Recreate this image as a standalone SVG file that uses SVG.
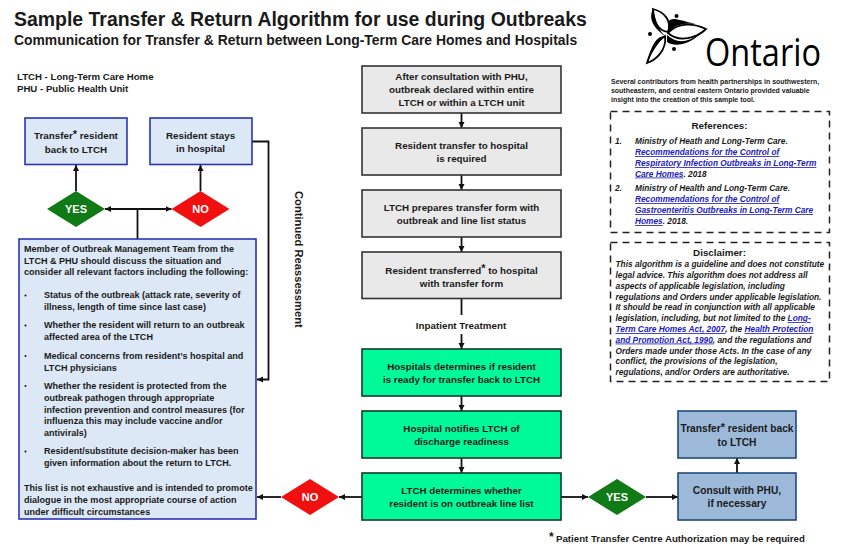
<svg xmlns="http://www.w3.org/2000/svg" width="850" height="550" viewBox="0 0 850 550">
<style>
text{font-family:"Liberation Sans",Arial,sans-serif;font-weight:700;fill:#1a1a1a}
.c{text-anchor:middle;font-size:9.8px}
.cr{text-anchor:middle;font-size:10.2px}
.b{font-size:9.05px}
.s{font-size:6.95px}
.r{font-size:8.3px;font-style:italic}
.d{font-size:8.34px;font-style:italic}
.l{fill:#2222bb;text-decoration:underline}
.h{font-size:9.8px;text-anchor:middle}
.w{fill:#fff;font-size:11px;text-anchor:middle}
.gr{fill:#e9e9e9;stroke:#333;stroke-width:1.6}
.gn{fill:#00fa9a;stroke:#0d3b2a;stroke-width:1.6}
.lb{fill:#dce8f6;stroke:#2a35b5;stroke-width:1.6}
.mb{fill:#9db9da;stroke:#1f4a78;stroke-width:1.6}
.y{fill:#0f7a16}
.n{fill:#f01010}
.dash{fill:#fff;stroke:#222;stroke-width:1.5;stroke-dasharray:7 5}
.e{fill:none;stroke:#111;stroke-width:1.8}
.p{fill:#fff;stroke:#000;stroke-width:1.8;stroke-linejoin:miter}
.sup{font-size:11px}
</style>
<defs>
<marker id="a" markerUnits="userSpaceOnUse" markerWidth="7" markerHeight="7" refX="6" refY="3" orient="auto-start-reverse"><path d="M0 0L6 3L0 6Z" fill="#111"/></marker>
</defs>
<g id="titles">
<text x="14" y="26" font-size="19.45">Sample Transfer &amp; Return Algorithm for use during Outbreaks</text>
<text x="14" y="45" font-size="13.9">Communication for Transfer &amp; Return between Long-Term Care Homes and Hospitals</text>
<text x="17" y="80" font-size="9.65">LTCH - Long-Term Care Home</text>
<text x="17" y="92" font-size="9.65">PHU - Public Health Unit</text>
</g>
<g id="logo">
<path class="p" d="M653 9C664 12 672 20 668 32C660 31 654 24 653 9Z"/>
<path class="p" d="M668 33C678 22 694 23 706 29C697 38 679 43 668 33Z"/>
<path class="p" d="M665 36C655 42 650 53 647 63C656 60 667 50 665 36Z"/>
<path d="M653 9C649 17 651 26 665 36C657 28 655 18 653 9ZM668 22C672 16 678 20 696 24C682 23 674 25 668 33ZM665 36C656 36 651 46 647 63C652 52 657 44 665 36ZM667 35C676 43 686 44 701 33C688 46 674 47 667 42Z" fill="#000"/>
<circle cx="676.500" cy="16" r="2"/><circle cx="650" cy="34" r="2"/><circle cx="674" cy="49" r="2"/>
<text x="705" y="66" font-size="39" textLength="116" lengthAdjust="spacingAndGlyphs" style="font-family:'Open Sans','Liberation Sans',sans-serif;font-weight:400;fill:#000">Ontario</text>
</g>
<g id="credits">
<text class="s" x="611" y="83.500">Several contributors from health partnerships in southwestern,</text>
<text class="s" x="611" y="93">southeastern, and central eastern Ontario provided valuable</text>
<text class="s" x="611" y="102">insight into the creation of this sample tool.</text>
</g>
<g id="references">
<rect class="dash" x="610.500" y="111.500" width="219" height="121"/>
<text class="h" x="719.500" y="129">References:</text>
<text class="r" x="615" y="144">1.</text>
<text class="r" x="635" y="144">Ministry of Heath and Long-Term Care.</text>
<text class="r l" x="635" y="155">Recommendations for the Control of</text>
<text class="r l" x="635" y="166">Respiratory Infection Outbreaks in Long-Term</text>
<text class="r" x="635" y="176.500"><tspan class="l">Care Homes</tspan>. 2018</text>
<text class="r" x="615" y="191">2.</text>
<text class="r" x="635" y="191">Ministry of Health and Long-Term Care.</text>
<text class="r l" x="635" y="202">Recommendations for the Control of</text>
<text class="r l" x="635" y="213">Gastroenteritis Outbreaks in Long-Term Care</text>
<text class="r" x="635" y="224"><tspan class="l">Homes</tspan>. 2018.</text>
</g>
<g id="disclaimer">
<rect class="dash" x="610.500" y="242.500" width="219" height="139"/>
<text class="h" x="719.500" y="256">Disclaimer:</text>
<text class="d" x="615.500" y="267">This algorithm is a guideline and does not constitute</text>
<text class="d" x="615.500" y="278">legal advice. This algorithm does not address all</text>
<text class="d" x="615.500" y="289">aspects of applicable legislation, including</text>
<text class="d" x="615.500" y="299.500">regulations and Orders under applicable legislation.</text>
<text class="d" x="615.500" y="310">It should be read in conjunction with all applicable</text>
<text class="d" x="615.500" y="321">legislation, including, but not limited to the <tspan class="l">Long-</tspan></text>
<text class="d" x="615.500" y="332"><tspan class="l">Term Care Homes Act, 2007</tspan>, the <tspan class="l">Health Protection</tspan></text>
<text class="d" x="615.500" y="342.500"><tspan class="l">and Promotion Act, 1990</tspan>, and the regulations and</text>
<text class="d" x="615.500" y="353.500">Orders made under those Acts. In the case of any</text>
<text class="d" x="615.500" y="364">conflict, the provisions of the legislation,</text>
<text class="d" x="615.500" y="375">regulations, and/or Orders are authoritative.</text>
</g>
<g id="connectors">
<path class="e" marker-end="url(#a)" d="M461.500 113V128"/>
<path class="e" marker-end="url(#a)" d="M461.500 175V190"/>
<path class="e" marker-end="url(#a)" d="M461.500 237V252"/>
<path class="e" d="M461.500 298.500V315"/>
<path class="e" marker-end="url(#a)" d="M461.500 334V349"/>
<path class="e" marker-end="url(#a)" d="M461.500 396V411"/>
<path class="e" marker-end="url(#a)" d="M461.500 458V473"/>
<path class="e" marker-end="url(#a)" d="M362 497H339"/>
<path class="e" marker-end="url(#a)" d="M281 497H257"/>
<path class="e" marker-end="url(#a)" d="M561 497H588"/>
<path class="e" marker-end="url(#a)" d="M646 497H678"/>
<path class="e" marker-end="url(#a)" d="M737 473V458"/>
<path class="e" marker-end="url(#a)" d="M76 191V165"/>
<path class="e" marker-end="url(#a)" d="M200.500 191V165"/>
<path class="e" marker-start="url(#a)" marker-end="url(#a)" d="M105 209H171.500"/>
<path class="e" d="M137.500 209V239"/>
<path class="e" marker-end="url(#a)" d="M252 141.500H268.500V379.500H257"/>
</g>
<g id="n1"><rect class="gr" x="362" y="66" width="199" height="47"/><text class="c" x="461.500" y="80">After consultation with PHU,</text><text class="c" x="461.500" y="93">outbreak declared within entire</text><text class="c" x="461.500" y="105.500">LTCH or within a LTCH unit</text></g>
<g id="n2"><rect class="gr" x="362" y="128" width="199" height="47"/><text class="c" x="461.500" y="149">Resident transfer to hospital</text><text class="c" x="461.500" y="161.500">is required</text></g>
<g id="n3"><rect class="gr" x="362" y="190" width="199" height="47"/><text class="c" x="461.500" y="211">LTCH prepares transfer form with</text><text class="c" x="461.500" y="223.500">outbreak and line list status</text></g>
<g id="n4"><rect class="gr" x="362" y="252" width="199" height="46.500"/><text class="c" x="461.500" y="273.500">Resident transferred<tspan class="sup" dy="-1.500">*</tspan><tspan dy="1.500"> to hospital</tspan></text><text class="c" x="461.500" y="287">with transfer form</text></g>
<g id="inpatient"><text class="c" x="461" y="329">Inpatient Treatment</text></g>
<g id="n5"><rect class="gn" x="362" y="349" width="199" height="47"/><text class="c" x="461.500" y="369.500">Hospitals determines if resident</text><text class="c" x="461.500" y="382.500">is ready for transfer back to LTCH</text></g>
<g id="n6"><rect class="gn" x="362" y="411" width="199" height="47"/><text class="c" x="461.500" y="431.500">Hospital notifies LTCH of</text><text class="c" x="461.500" y="444.500">discharge readiness</text></g>
<g id="n7"><rect class="gn" x="362" y="473" width="199" height="47"/><text class="c" x="461.500" y="494">LTCH determines whether</text><text class="c" x="461.500" y="506.500">resident is on outbreak line list</text></g>
<g id="noBottom"><path class="n" d="M310 479L339 497L310 515L281 497Z"/><text class="w" x="310" y="501">NO</text></g>
<g id="yesBottom"><path class="y" d="M617 479L646 497L617 515L588 497Z"/><text class="w" x="617" y="501">YES</text></g>
<g id="consult"><rect class="mb" x="678" y="473" width="118" height="47"/><text class="cr" x="737" y="494">Consult with PHU,</text><text class="cr" x="737" y="506.500">if necessary</text></g>
<g id="transferRight"><rect class="mb" x="678" y="411" width="118" height="47"/><text class="cr" x="737" y="432">Transfer<tspan class="sup" dy="-1.500">*</tspan><tspan dy="1.500"> resident back</tspan></text><text class="cr" x="737" y="446">to LTCH</text></g>
<g id="transferLeft"><rect class="lb" x="25" y="118" width="102" height="46.500"/><text class="c" x="76" y="139">Transfer<tspan class="sup" dy="-1.500">*</tspan><tspan dy="1.500"> resident</tspan></text><text class="c" x="76" y="153">back to LTCH</text></g>
<g id="stays"><rect class="lb" x="150" y="118" width="102" height="46.500"/><text class="c" x="200.500" y="138.500">Resident stays</text><text class="c" x="200.500" y="151.500">in hospital</text></g>
<g id="yesTop"><path class="y" d="M76 191L105 209L76 227L47 209Z"/><text class="w" x="76" y="213">YES</text></g>
<g id="noTop"><path class="n" d="M200.500 191L229.500 209L200.500 227L171.500 209Z"/><text class="w" x="200.500" y="213">NO</text></g>
<g id="reassess"><text font-size="11.2" transform="translate(295 191) rotate(90)">Continued Reassessment</text></g>
<g id="factors"><rect class="lb" x="19" y="239" width="237" height="280"/>
<text class="b" x="24" y="251.500">Member of Outbreak Management Team from the</text>
<text class="b" x="24" y="263.500">LTCH &amp; PHU should discuss the situation and</text>
<text class="b" x="24" y="275">consider all relevant factors including the following:</text>
<circle cx="25.500" cy="295.500" r="1" fill="#111"/>
<text class="b" x="44" y="298">Status of the outbreak (attack rate, severity of</text>
<text class="b" x="44" y="310">illness, length of time since last case)</text>
<circle cx="25.500" cy="325.500" r="1" fill="#111"/>
<text class="b" x="44" y="328">Whether the resident will return to an outbreak</text>
<text class="b" x="44" y="340">affected area of the LTCH</text>
<circle cx="25.500" cy="356" r="1" fill="#111"/>
<text class="b" x="44" y="358.500">Medical concerns from resident’s hospital and</text>
<text class="b" x="44" y="370.500">LTCH physicians</text>
<circle cx="25.500" cy="386" r="1" fill="#111"/>
<text class="b" x="44" y="389">Whether the resident is protected from the</text>
<text class="b" x="44" y="400.500">outbreak pathogen through appropriate</text>
<text class="b" x="44" y="412.500">infection prevention and control measures (for</text>
<text class="b" x="44" y="424">influenza this may include vaccine and/or</text>
<text class="b" x="44" y="436">antivirals)</text>
<circle cx="25.500" cy="451.500" r="1" fill="#111"/>
<text class="b" x="44" y="454">Resident/substitute decision-maker has been</text>
<text class="b" x="44" y="466">given information about the return to LTCH.</text>
<text class="b" x="24" y="491">This list is not exhaustive and is intended to promote</text>
<text class="b" x="24" y="503">dialogue in the most appropriate course of action</text>
<text class="b" x="24" y="514.500">under difficult circumstances</text>
</g>
<g id="footnote"><text font-size="12" x="549" y="541">*</text><text font-size="9.7" x="556" y="541.500">Patient Transfer Centre Authorization may be required</text></g>
</svg>
